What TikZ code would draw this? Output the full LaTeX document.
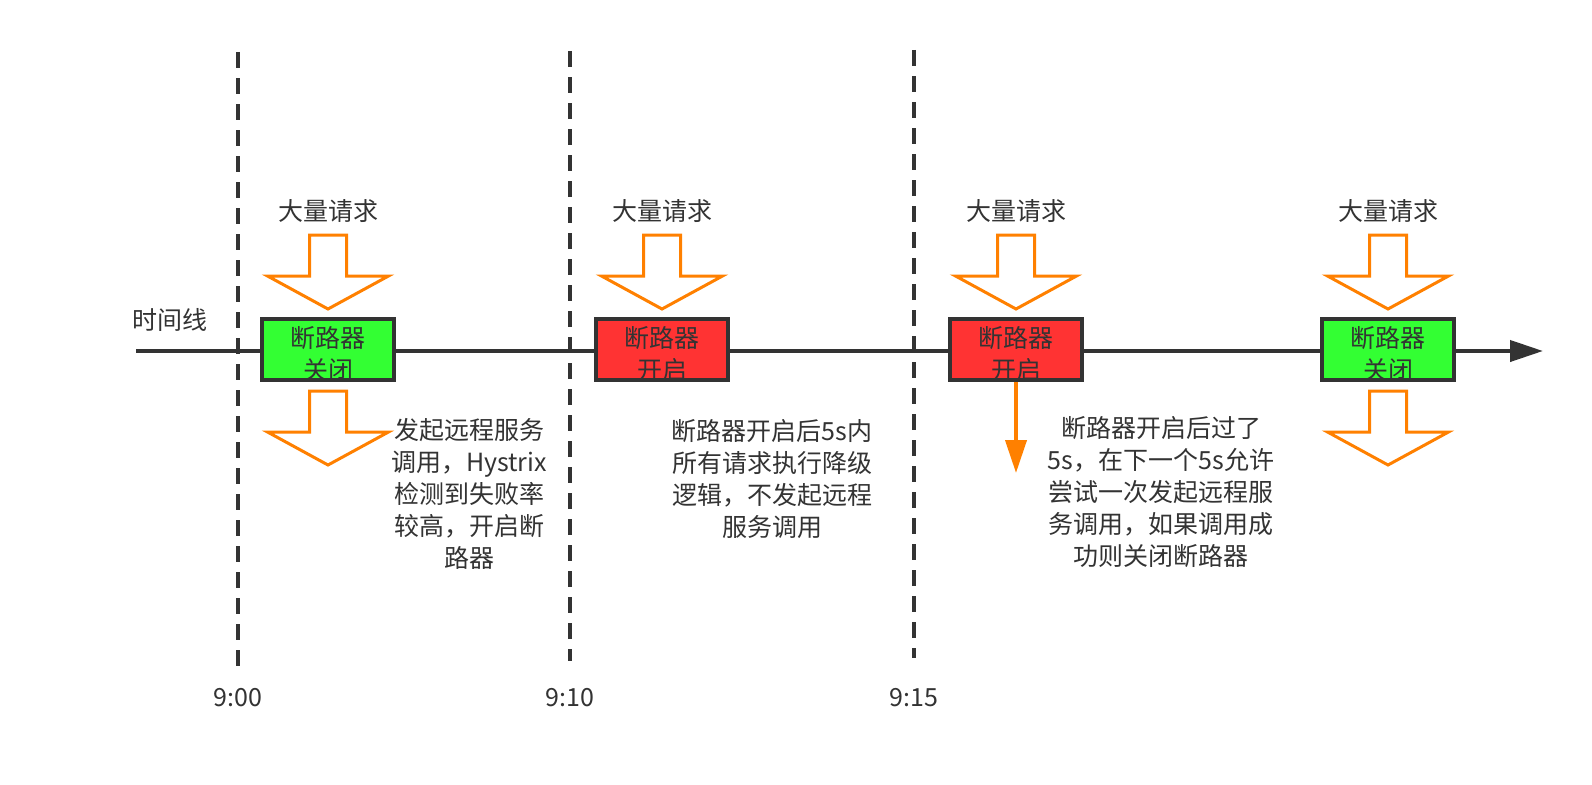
\documentclass[tikz,border=0pt]{standalone}
\usepackage{fontspec}
\setmainfont{Noto Sans CJK SC}
\usetikzlibrary{arrows.meta,calc}
\definecolor{cdark}{RGB}{51,51,51}
\definecolor{corange}{RGB}{255,128,0}
\definecolor{cgreen}{RGB}{51,255,51}
\definecolor{cred}{RGB}{255,51,51}
\tikzset{
  brk/.style  ={rectangle, draw=cdark, line width=4pt, minimum width=132pt,
                minimum height=61pt, inner sep=0pt},
  txt/.style  ={text=cdark, font=\fontsize{25}{32}\selectfont, align=center,
                inner sep=0pt},
  tline/.style={draw=cdark, line width=4pt},
  vdash/.style={draw=cdark, line width=4pt, dash pattern=on 16pt off 10pt},
  flow/.style ={draw=corange, line width=3pt, line join=miter},
  tip/.style  ={-{Triangle[length=33pt,width=21pt]}},
  req/.pic    ={\draw[flow] (-18.5,0) -- (18.5,0) -- (18.5,41) -- (60.5,41)
                -- (0,74) -- (-60.5,41) -- (-18.5,41) -- cycle;}
}

\begin{document}
\begin{tikzpicture}[x=1pt,y=-1pt]
\useasboundingbox (0,0) rectangle (1592,784);

\foreach \x/\a/\b [count=\i] in {238/52/666, 570/51/661, 914/50/658}{
  \coordinate (d\i top) at (\x,\a);
  \coordinate (d\i bot) at (\x,\b);
  \draw[vdash] (d\i top) -- (d\i bot);
}

\coordinate (t0) at (136,351);
\coordinate (t1) at (1543,351);
\draw[tline, tip] (t0) -- (t1);
\node[txt] (axis) at (170,320) {时间线};

\node[brk, fill=cgreen] (b1) at (328,349.5) {};
\node[brk, fill=cred]   (b2) at (662,349.5) {};
\node[brk, fill=cred]   (b3) at (1016,349.5) {};
\node[brk, fill=cgreen] (b4) at (1388,349.5) {};
\node[txt] (s1) at (328,354) {断路器\\关闭};
\node[txt] (s2) at (662,354) {断路器\\开启};
\node[txt] (s3) at (1016,354) {断路器\\开启};
\node[txt] (s4) at (1388,354) {断路器\\关闭};

\foreach \x [count=\i] in {328,662,1016,1388}{
  \pic at (\x,235) {req};
  \node[txt] (q\i) at (\x,211) {大量请求};
}
\pic at (328,391) {req};
\pic at (1388,391) {req};

\coordinate (p3) at (1016,473);
\draw[flow, line width=4pt, tip] (b3.south) -- (p3);

\node[txt, anchor=north] (n1) at (469,418)
  {发起远程服务\\调用，Hystrix\\检测到失败率\\较高，开启断\\路器};
\node[txt, anchor=north] (n2) at (772,419)
  {断路器开启后5s内\\所有请求执行降级\\逻辑，不发起远程\\服务调用};
\node[txt, anchor=north] (n3) at (1161,416)
  {断路器开启后过了\\5s，在下一个5s允许\\尝试一次发起远程服\\务调用，如果调用成\\功则关闭断路器};

\node[txt] (h1) at (238,698) {9:00};
\node[txt] (h2) at (570,698) {9:10};
\node[txt] (h3) at (914,698) {9:15};
\end{tikzpicture}
\end{document}
